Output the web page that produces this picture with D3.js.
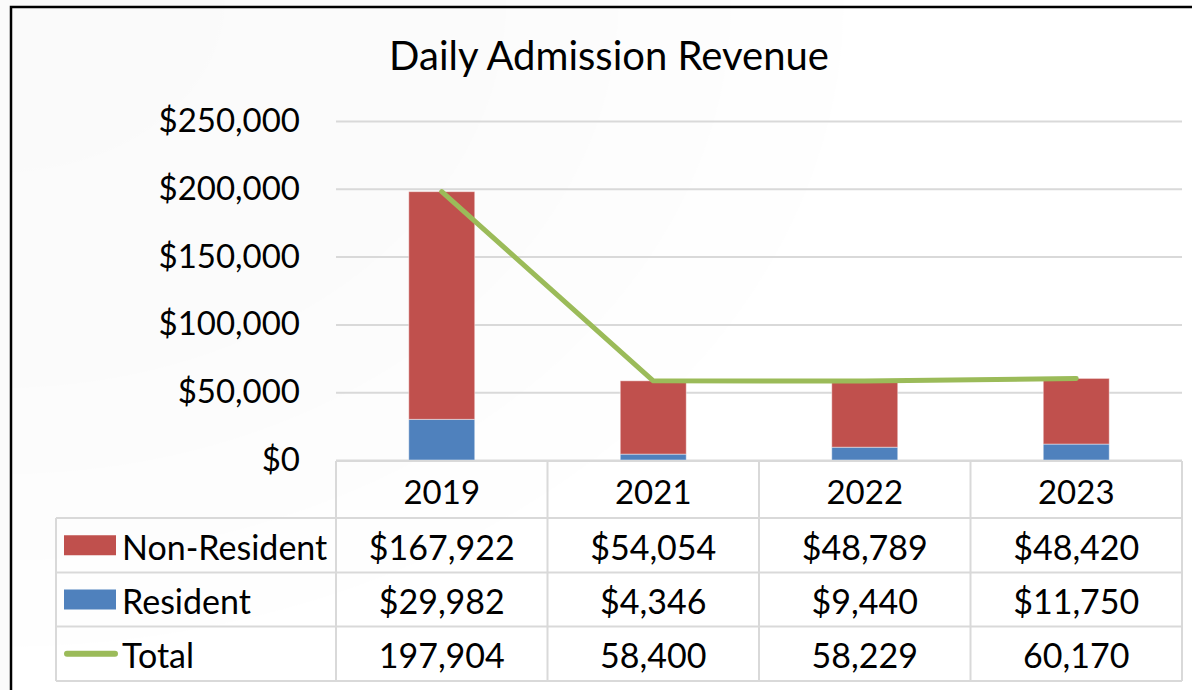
<!DOCTYPE html>
<html>
<head>
<meta charset="utf-8">
<script src="https://cdn.jsdelivr.net/npm/d3@7"></script>
<style>
  html, body { margin: 0; padding: 0; background: #ffffff; }
  svg { display: block; font-family: Lato, "Open Sans", sans-serif; }
</style>
</head>
<body>
<svg id="drawing_region"></svg>
<script>
// chart values
const years = ['2019', '2021', '2022', '2023'];
const nonResident = [167922, 54054, 48789, 48420];
const resident = [29982, 4346, 9440, 11750];
const total = [197904, 58400, 58229, 60170];
const yTicks = [0, 50000, 100000, 150000, 200000, 250000];

const seriesNames = ['Non-Resident', 'Resident', 'Total'];
const seriesColors = ['#c0504d', '#4f81bd', '#9bbb59'];

class StackedLineTable {

    constructor( config ) {
        this.config = {
            parent: config.parent,
            width: config.width || 1192,
            height: config.height || 690,
            margin: config.margin || {top:121, right:10, bottom:230, left:336}
        };
        this.init();
    }

    init() {
        let self = this;

        self.svg = d3.select( self.config.parent )
            .attr('width', self.config.width)
            .attr('height', self.config.height);

        self.inner_width = self.config.width - self.config.margin.left - self.config.margin.right;
        self.x0 = self.config.margin.left;
        self.x1 = self.x0 + self.inner_width;
        self.y0 = 460;   // baseline of the plot

        self.xscale = d3.scaleBand()
            .domain( years )
            .range( [self.x0, self.x1] )
            .paddingInner(0.688)
            .paddingOuter(0.344);

        self.yscale = d3.scaleLinear()
            .domain( [0, 250000] )
            .range( [self.y0, self.config.margin.top] );
    }

    update() {
        let self = this;
        self.rows = years.map( (y, i) => ({ year: y, nonResident: nonResident[i], resident: resident[i], total: total[i] }) );
        self.stack = d3.stack().keys(['resident', 'nonResident'])( self.rows );
        self.render();
    }

    drawBackground() {
        let self = this;
        const defs = self.svg.append('defs');

        // faint circle pattern, strongest in the top-left corner
        const pat = defs.append('pattern')
            .attr('id', 'scales')
            .attr('patternUnits', 'userSpaceOnUse')
            .attr('width', 170)
            .attr('height', 150);
        pat.append('rect').attr('width', 170).attr('height', 150).attr('fill', '#e6e6e6');
        [[0,0],[170,0],[85,75],[0,150],[170,150]].forEach( c => {
            pat.append('circle').attr('cx', c[0]).attr('cy', c[1]).attr('r', 80).attr('fill', '#fafafa');
        });

        const grad = defs.append('radialGradient')
            .attr('id', 'fade')
            .attr('cx', 0).attr('cy', 0).attr('r', 1)
            .attr('gradientUnits', 'objectBoundingBox');
        grad.append('stop').attr('offset', '0%').attr('stop-color', '#fff').attr('stop-opacity', 1);
        grad.append('stop').attr('offset', '50%').attr('stop-color', '#fff').attr('stop-opacity', 0.8);
        grad.append('stop').attr('offset', '100%').attr('stop-color', '#fff').attr('stop-opacity', 0);

        const mask = defs.append('mask').attr('id', 'fademask');
        mask.append('rect')
            .attr('width', 900).attr('height', 690)
            .attr('fill', 'url(#fade)');

        self.svg.append('rect')
            .attr('width', 900).attr('height', 690)
            .attr('fill', 'url(#scales)')
            .attr('mask', 'url(#fademask)');

        // strip outside the frame on the left
        self.svg.append('rect')
            .attr('width', 11).attr('height', self.config.height)
            .attr('fill', 'url(#scales)');
    }

    render() {
        let self = this;

        self.drawBackground();

        // chart frame
        self.svg.append('path')
            .attr('d', `M11,${self.config.height} L11,7 L${self.config.width},7`)
            .attr('fill', 'none')
            .attr('stroke', '#000')
            .attr('stroke-width', 2.5);

        // title
        self.svg.append('text')
            .attr('x', 609)
            .attr('y', 70)
            .attr('text-anchor', 'middle')
            .style('font-size', '40px')
            .style('fill', '#000')
            .text('Daily Admission Revenue');

        // y axis with gridlines
        const yaxis = d3.axisLeft( self.yscale )
            .tickValues( yTicks )
            .tickSize( -self.inner_width )
            .tickPadding( 36 )
            .tickFormat( d => '$' + d3.format(',')(d) );

        const yg = self.svg.append('g')
            .attr('transform', `translate(${self.x0},0)`)
            .call( yaxis );
        yg.select('.domain').remove();
        yg.selectAll('.tick line')
            .attr('stroke', '#d9d9d9')
            .attr('stroke-width', 2);
        yg.selectAll('.tick text')
            .style('font-size', '33px')
            .style('font-family', 'Lato, "Open Sans", sans-serif')
            .attr('fill', '#000');

        // stacked bars
        self.svg.selectAll('.layer')
            .data( self.stack )
            .enter()
            .append('g')
            .attr('class', 'layer')
            .attr('fill', d => d.key == 'resident' ? seriesColors[1] : seriesColors[0])
            .selectAll('rect')
            .data( d => d )
            .enter()
            .append('rect')
            .attr('x', d => self.xscale( d.data.year ))
            .attr('y', d => self.yscale( d[1] ))
            .attr('width', self.xscale.bandwidth())
            .attr('height', d => self.yscale( d[0] ) - self.yscale( d[1] ))
            .attr('stroke', 'rgba(255,255,255,0.45)')
            .attr('stroke-width', 1);

        // total line
        const line = d3.line()
            .x( d => self.xscale( d.year ) + self.xscale.bandwidth()/2 )
            .y( d => self.yscale( d.total ) );

        self.svg.append('path')
            .datum( self.rows )
            .attr('d', line)
            .attr('fill', 'none')
            .attr('stroke', seriesColors[2])
            .attr('stroke-width', 5)
            .attr('stroke-linecap', 'round')
            .attr('stroke-linejoin', 'round');

        self.renderTable();
    }

    renderTable() {
        let self = this;
        const step = self.xscale.step();
        const rowTop = [461, 518, 572.5, 626.5, 681];
        const legendLeft = 56;
        const grid = self.svg.append('g')
            .attr('stroke', '#d9d9d9')
            .attr('stroke-width', 2)
            .attr('fill', 'none');

        // horizontal lines
        rowTop.forEach( (y, i) => {
            grid.append('line')
                .attr('x1', i == 0 ? self.x0 : legendLeft)
                .attr('x2', self.x1)
                .attr('y1', y).attr('y2', y);
        });
        // vertical lines
        grid.append('line')
            .attr('x1', legendLeft).attr('x2', legendLeft)
            .attr('y1', rowTop[1]).attr('y2', rowTop[4]);
        d3.range( years.length + 1 ).forEach( i => {
            const x = self.x0 + i * step;
            grid.append('line')
                .attr('x1', x).attr('x2', x)
                .attr('y1', rowTop[0]).attr('y2', rowTop[4]);
        });

        const cx = d => self.xscale( d ) + self.xscale.bandwidth()/2;
        const midY = i => (rowTop[i] + rowTop[i+1]) / 2 + 1;

        // header
        self.svg.selectAll('.year')
            .data( years )
            .enter()
            .append('text')
            .attr('class', 'year')
            .attr('x', d => cx(d))
            .attr('y', midY(0))
            .attr('text-anchor', 'middle')
            .attr('dominant-baseline', 'central')
            .style('font-size', '33px')
            .text( d => d );

        const money = d => '$' + d3.format(',')(d);
        const tableRows = [
            { name: seriesNames[0], values: nonResident.map(money) },
            { name: seriesNames[1], values: resident.map(money) },
            { name: seriesNames[2], values: total.map(d3.format(',')) }
        ];

        tableRows.forEach( (r, ri) => {
            const y = midY(ri + 1);
            if (ri < 2) {
                self.svg.append('rect')
                    .attr('x', 64).attr('y', y - 11)
                    .attr('width', 52).attr('height', 20)
                    .attr('fill', seriesColors[ri]);
            } else {
                self.svg.append('line')
                    .attr('x1', 67).attr('x2', 115)
                    .attr('y1', y - 1).attr('y2', y - 1)
                    .attr('stroke', seriesColors[ri])
                    .attr('stroke-width', 6)
                    .attr('stroke-linecap', 'round');
            }
            self.svg.append('text')
                .attr('x', 122)
                .attr('y', y)
                .attr('dominant-baseline', 'central')
                .style('font-size', '34px')
                .text( r.name );

            self.svg.selectAll('.cell' + ri)
                .data( r.values )
                .enter()
                .append('text')
                .attr('x', (d, i) => cx( years[i] ))
                .attr('y', y)
                .attr('text-anchor', 'middle')
                .attr('dominant-baseline', 'central')
                .style('font-size', '34px')
                .text( d => d );
        });
    }
}

const chart = new StackedLineTable({ parent: '#drawing_region', width: 1192, height: 690 });
chart.update();
</script>
</body>
</html>
